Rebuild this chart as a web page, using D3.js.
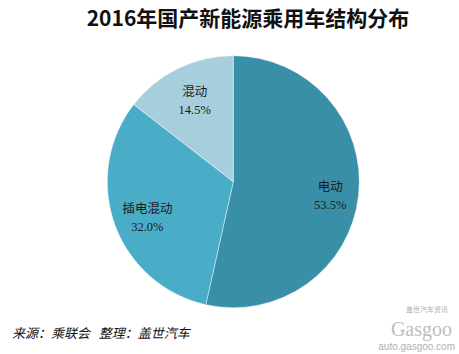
<!DOCTYPE html>
<html><head><meta charset="utf-8">
<script src="https://cdn.jsdelivr.net/npm/d3@7"></script>
<style>body{margin:0;background:#fff}svg{display:block}</style>
</head><body>
<script>
const title = "2016年国产新能源乘用车结构分布";
const categories = ["电动", "插电混动", "混动"];
const values = [53.5, 32.0, 14.5];
const colors = ["#3A8FA8", "#4AADC8", "#A6CEDC"];
const source = "来源：乘联会   整理：盖世汽车";

const W = 459, H = 354;
const svg = d3.select("body").append("svg").attr("width", W).attr("height", H);

svg.append("text").attr("x", 248).attr("y", 26).attr("text-anchor", "middle")
  .attr("font-family", "'Noto Sans CJK SC', sans-serif").attr("font-weight", "bold")
  .attr("font-size", 21).attr("fill", "#111").text(title);

const cx = 233.3, cy = 181.7, R = 126;
const pie = d3.pie().sort(null).value(d => d)(values);
const arc = d3.arc().innerRadius(0).outerRadius(R);
const labelArc = d3.arc().innerRadius(R * 0.75).outerRadius(R * 0.75);
const g = svg.append("g").attr("transform", `translate(${cx},${cy})`);
g.selectAll("path").data(pie).join("path")
  .attr("d", arc).attr("fill", (d, i) => colors[i])
  .attr("stroke", "#fff").attr("stroke-width", 0.6).attr("stroke-opacity", 0.7);

const lab = g.selectAll("g.lab").data(pie).join("g").attr("class", "lab")
  .attr("transform", d => { const c = labelArc.centroid(d); return `translate(${c[0] + 3},${c[1] + 3})`; });
lab.append("text").attr("y", -4).attr("text-anchor", "middle")
  .attr("font-family", "'Noto Sans CJK SC', sans-serif").attr("font-size", 12.5)
  .attr("fill", "#1a1a1a").text((d, i) => categories[i]);
lab.append("text").attr("y", 14).attr("text-anchor", "middle")
  .attr("font-family", "'Liberation Serif', serif").attr("font-size", 12.5)
  .attr("fill", "#1a1a1a").text(d => d.data.toFixed(1) + "%");

svg.append("text").attr("x", 12).attr("y", 338)
  .attr("font-family", "'Noto Sans CJK SC', sans-serif").attr("font-style", "italic")
  .attr("font-size", 13).attr("fill", "#111").attr("xml:space", "preserve").text(source);

// watermark
const wm = svg.append("g").attr("fill", "#b0b0b0");
wm.append("text").attr("x", 448).attr("y", 312).attr("text-anchor", "end")
  .attr("font-family", "'Noto Sans CJK SC', sans-serif").attr("font-size", 7).text("盖世汽车资讯");
wm.append("text").attr("x", 452).attr("y", 336).attr("text-anchor", "end")
  .attr("font-family", "'Liberation Serif', serif").attr("font-size", 20).attr("fill", "#bdbdbd").text("Gasgoo");
wm.append("text").attr("x", 455).attr("y", 350).attr("text-anchor", "end")
  .attr("font-family", "'Liberation Sans', sans-serif").attr("font-size", 10).text("auto.gasgoo.com");
</script>
</body></html>
